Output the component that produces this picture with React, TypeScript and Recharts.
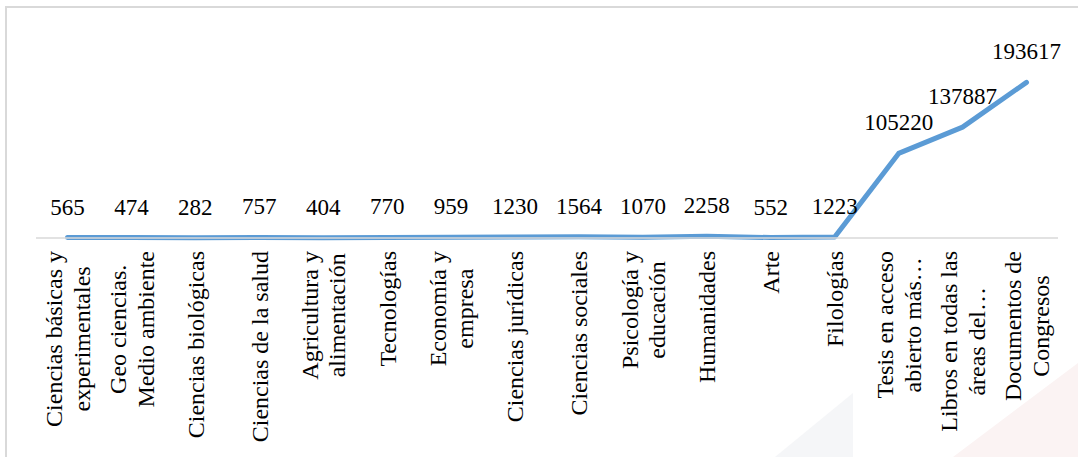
import React from "react";
import { LineChart, Line, XAxis, YAxis, LabelList } from "recharts";

// category names, "\n" marks where the label wraps
const categories = [
  "Ciencias básicas y\nexperimentales",
  "Geo ciencias.\nMedio ambiente",
  "Ciencias biológicas",
  "Ciencias de la salud",
  "Agricultura y\nalimentación",
  "Tecnologías",
  "Economía y\nempresa",
  "Ciencias jurídicas",
  "Ciencias sociales",
  "Psicología y\neducación",
  "Humanidades",
  "Arte",
  "Filologías",
  "Tesis en acceso\nabierto más…",
  "Libros en todas las\náreas del…",
  "Documentos de\nCongresos",
];

const values = [565, 474, 282, 757, 404, 770, 959, 1230, 1564, 1070, 2258, 552, 1223, 105220, 137887, 193617];

const yDomain = [0, 250000];

const data = categories.map((name, i) => ({ name, value: values[i] }));

const FONT = "'Liberation Serif'";
const TICK_SIZE = 24;
const LINE_H = 27.6;

let ctx: CanvasRenderingContext2D | null = null;
function measure(s: string) {
  if (!ctx) {
    ctx = document.createElement("canvas").getContext("2d");
  }
  if (!ctx) return s.length * TICK_SIZE * 0.42;
  ctx.font = `${TICK_SIZE}px ${FONT}`;
  return ctx.measureText(s).width;
}

const CategoryTick = ({ x, y, payload }: any) => {
  const lines: string[] = String(payload.value).split("\n");
  const maxW = Math.max(...lines.map(measure));
  const mid = y + 13 + maxW / 2;
  return (
    <g transform={`translate(${x},${mid}) rotate(-90)`}>
      {lines.map((ln, i) => (
        <text
          key={i}
          x={0}
          y={(i - (lines.length - 1) / 2) * LINE_H + 8.4}
          textAnchor="middle"
          style={{ fontFamily: FONT, fontSize: TICK_SIZE }}
          fill="#000"
        >
          {ln}
        </text>
      ))}
    </g>
  );
};

const ValueLabel = ({ x, y, value }: any) => (
  <text x={x} y={y - 23} textAnchor="middle" style={{ fontFamily: FONT, fontSize: 23 }} fill="#000">
    {value}
  </text>
);

export default function App() {
  return (
    <div style={{ position: "absolute", left: 0, top: 0, width: 1078, height: 457, overflow: "hidden", background: "#fff" }}>
      {/* faint background shapes */}
      <svg width={1078} height={457} style={{ position: "absolute", left: 0, top: 0 }}>
        <polygon points="775,457 853,393 853,457" fill="#f5f6f8" />
        <polygon points="953,457 1078,363 1078,457" fill="#fbf3f3" />
      </svg>
      <div
        style={{
          position: "absolute",
          left: 5,
          top: 6,
          width: 1200,
          height: 600,
          borderTop: "2px solid #d9d9d9",
          borderLeft: "2px solid #d9d9d9",
        }}
      />
      <div style={{ position: "absolute", left: 0, top: 0 }}>
        <LineChart width={1078} height={457} data={data} margin={{ top: 37, right: 20, left: 36, bottom: 0 }}>
          <XAxis
            dataKey="name"
            interval={0}
            height={219}
            padding={{ left: 31.5, right: 31.5 }}
            axisLine={{ stroke: "#d9d9d9", strokeWidth: 1.5 }}
            tickLine={false}
            tickSize={0}
            tickMargin={0}
            tick={<CategoryTick />}
          />
          <YAxis hide domain={yDomain} />
          <Line
            type="linear"
            dataKey="value"
            stroke="#5b9bd5"
            strokeWidth={5}
            strokeLinecap="round"
            strokeLinejoin="round"
            dot={false}
            isAnimationActive={false}
          >
            <LabelList dataKey="value" content={<ValueLabel />} />
          </Line>
        </LineChart>
      </div>
    </div>
  );
}
